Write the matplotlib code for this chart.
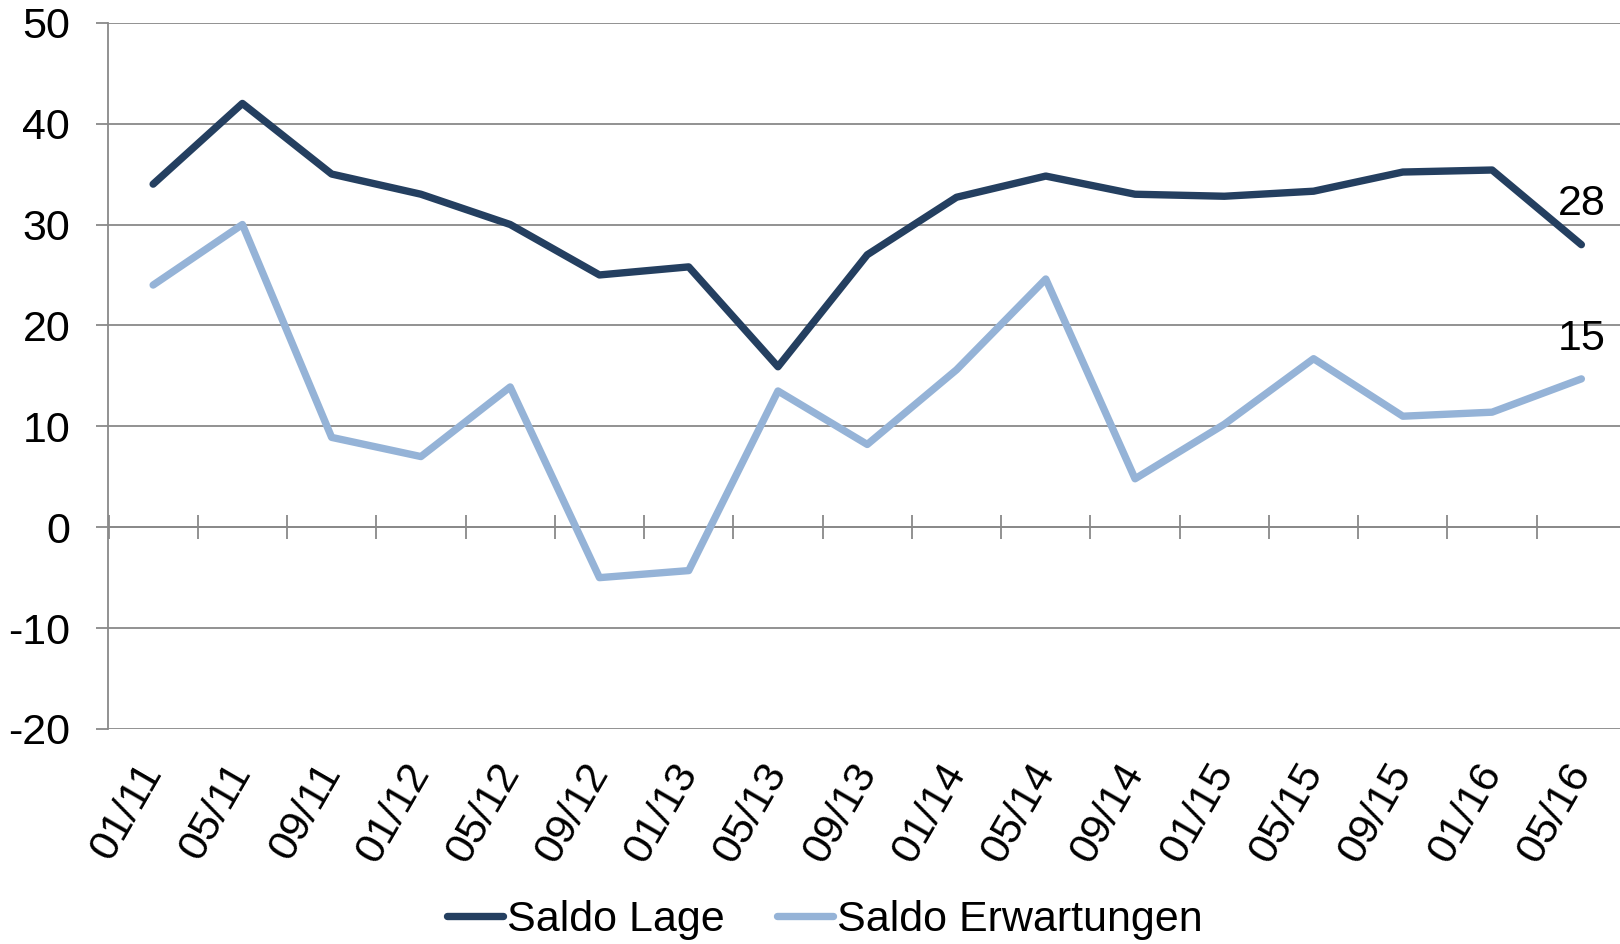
import numpy as np
import matplotlib.pyplot as plt

# Data
months = ['01/11', '05/11', '09/11', '01/12', '05/12', '09/12', '01/13', '05/13', '09/13',
          '01/14', '05/14', '09/14', '01/15', '05/15', '09/15', '01/16', '05/16']
saldo_lage = [34, 42, 35, 33, 30, 25, 25.8, 15.9, 27, 32.7, 34.8, 33, 32.8, 33.3, 35.2, 35.4, 28]
saldo_erw = [24, 30, 8.9, 7, 13.9, -5, -4.3, 13.5, 8.2, 15.6, 24.6, 4.8, 10.2, 16.7, 11, 11.4, 14.7]
yticks = [-20, -10, 0, 10, 20, 30, 40, 50]


def main():
    plt.rcParams['font.family'] = ['Liberation Sans', 'DejaVu Sans']
    dark = '#243F60'
    light = '#95B3D7'
    grey = '#898989'
    fs = 31

    fig = plt.figure(figsize=(16.2, 9.44), dpi=100)
    ax = fig.add_axes([108.5 / 1620, 1 - 729 / 944, (1626 - 108.5) / 1620, (729 - 22.7) / 944])
    x = np.arange(len(months))

    ax.plot(x, saldo_lage, color=dark, lw=5.3, solid_capstyle='round', label='Saldo Lage', zorder=3)
    ax.plot(x, saldo_erw, color=light, lw=5.3, solid_capstyle='round', label='Saldo Erwartungen', zorder=3)

    ax.annotate(str(round(saldo_lage[-1])), (x[-1], saldo_lage[-1]), xytext=(0, 29),
                textcoords='offset points', ha='center', va='center', fontsize=fs)
    ax.annotate(str(round(saldo_erw[-1])), (x[-1], saldo_erw[-1]), xytext=(0, 29),
                textcoords='offset points', ha='center', va='center', fontsize=fs)

    ax.set_xlim(-0.5, len(months) - 0.5)
    ax.set_ylim(-20, 50)
    ax.set_yticks(yticks)
    ax.set_yticklabels([str(v) for v in yticks], fontsize=fs)
    ax.tick_params(axis='y', length=8.6, width=1.3, color=grey, pad=19)
    ax.yaxis.grid(True, color=grey, lw=1.3)
    ax.set_axisbelow(True)

    ax.set_xticks(x)
    ax.set_xticklabels(months, fontsize=fs, rotation=60, rotation_mode='anchor', ha='right', va='center')
    ax.tick_params(axis='x', length=0, pad=27)

    for s in ['top', 'right', 'bottom']:
        ax.spines[s].set_visible(False)
    ax.spines['left'].set_color(grey)
    ax.spines['left'].set_linewidth(1.3)

    # category axis crossing at zero
    zero_ax = ax.secondary_xaxis(20 / 70)
    zero_ax.set_xticks(np.arange(len(months) + 1) - 0.5)
    zero_ax.set_xticklabels([])
    zero_ax.tick_params(direction='inout', length=17, width=1.3, color=grey)
    zero_ax.spines['bottom'].set_color(grey)
    zero_ax.spines['bottom'].set_linewidth(1.3)

    fig.legend(loc='center', bbox_to_anchor=(825 / 1620, 1 - 920 / 944), ncol=2, frameon=False,
               fontsize=fs, handlelength=1.3, handletextpad=0.1, columnspacing=1.2)

    plt.savefig('out.png', dpi=100)


if __name__ == '__main__':
    main()
